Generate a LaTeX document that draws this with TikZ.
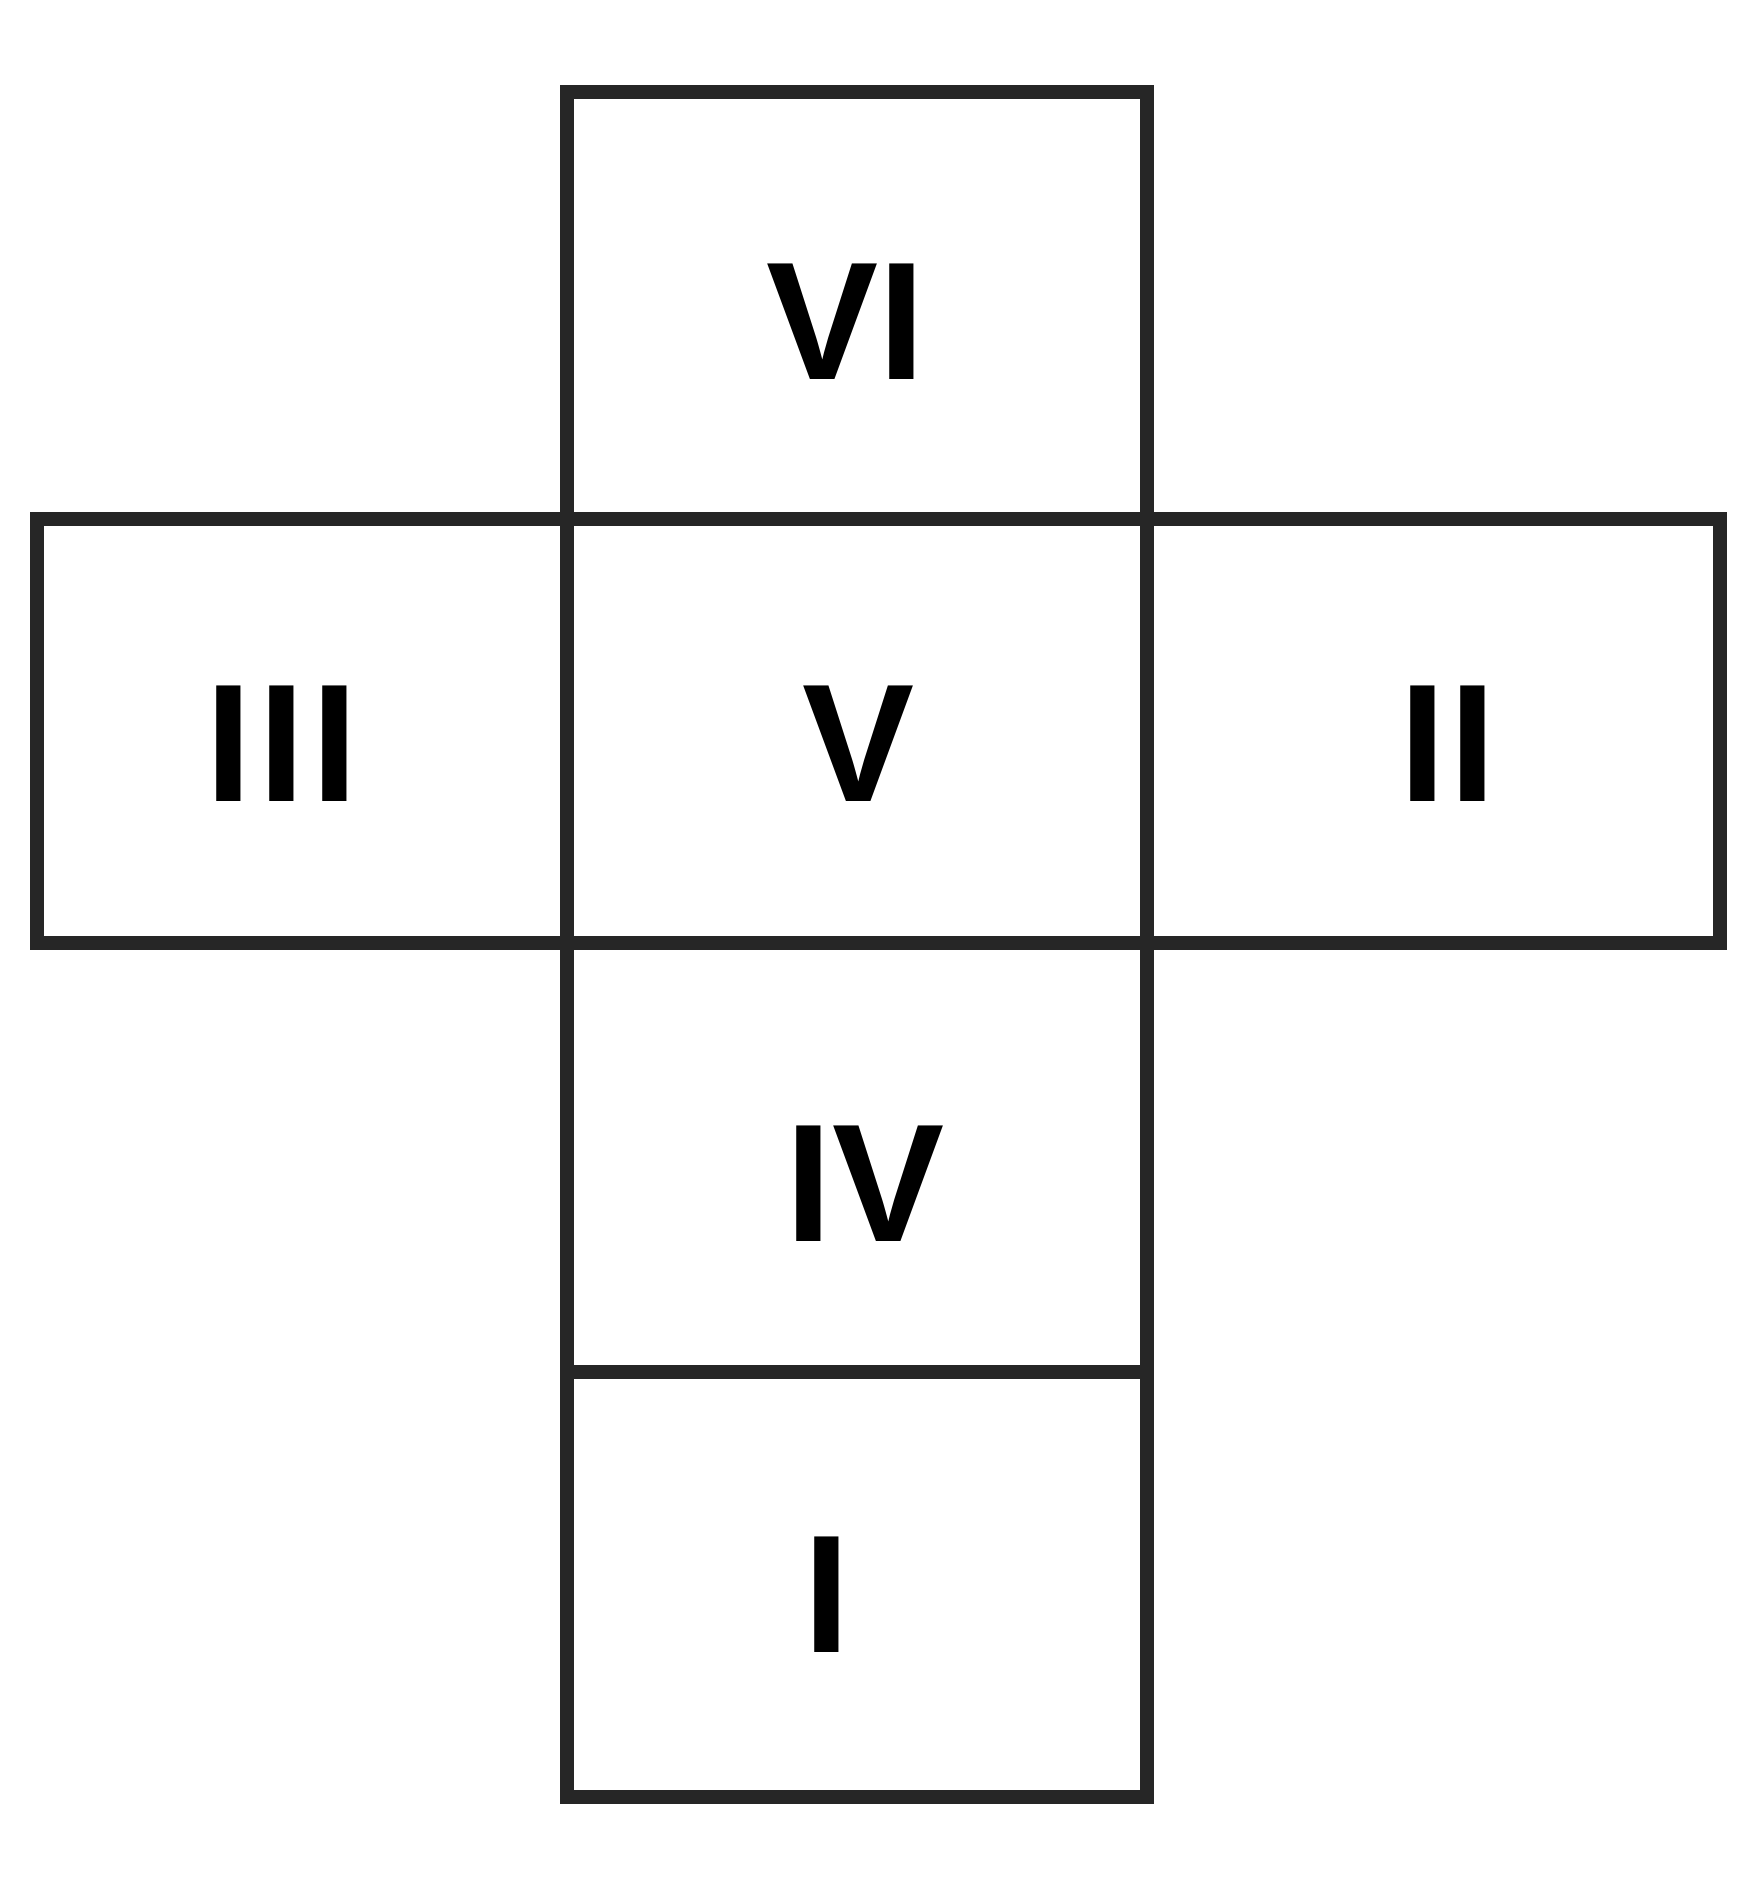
\documentclass[tikz,border=0pt]{standalone}
\usepackage{fontspec}
\setmainfont{Liberation Sans}
\begin{document}
\begin{tikzpicture}[x=1pt,y=-1pt,
  face/.style={draw=black!85, line width=14pt, rectangle, inner sep=0pt},
  lab/.style={inner sep=0pt, font=\fontsize{168}{168}\selectfont\bfseries, text=black}]
\useasboundingbox[fill=white] (0,0) rectangle (1744,1900);
% faces
\node[face, minimum width=580pt, minimum height=427pt] (vi)  at (857,305.5)  {};
\node[face, minimum width=530pt, minimum height=424pt] (iii) at (302,731)    {};
\node[face, minimum width=580pt, minimum height=424pt] (v)   at (857,731)    {};
\node[face, minimum width=573pt, minimum height=424pt] (ii)  at (1433.5,731) {};
\node[face, minimum width=580pt, minimum height=429pt] (iv)  at (857,1157.5) {};
\node[face, minimum width=580pt, minimum height=425pt] (i)   at (857,1584.5) {};
% labels
\node[lab] (lvi)  at (846,322)   {VI};
\node[lab] (lv)   at (859,744)   {V};
\node[lab] (liii) at (282,744)   {I\kern6pt I\kern6pt I};
\node[lab] (lii)  at (1448,744)  {I\kern4pt I};
\node[lab] (liv)  at (865,1184)  {IV};
\node[lab] (li)   at (827,1595)  {I};
\end{tikzpicture}
\end{document}
